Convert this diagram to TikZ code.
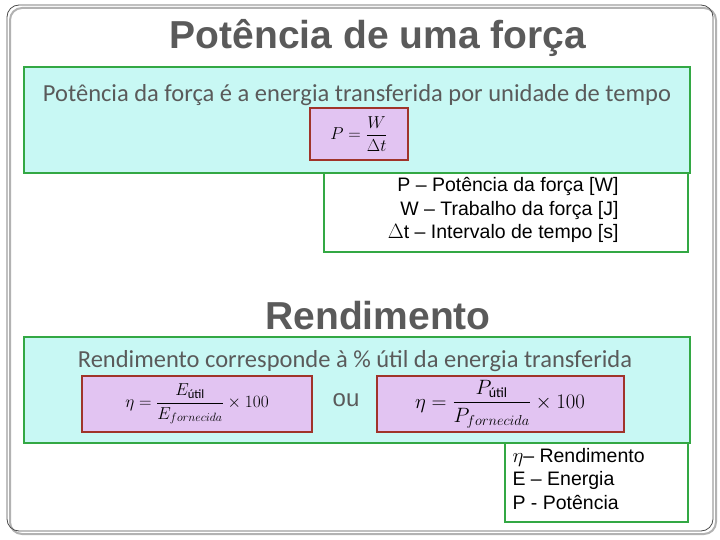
\documentclass[tikz,border=0pt]{standalone}
\usepackage{fontspec}
\setmainfont{Carlito}
\newfontfamily\arialfont{Liberation Sans}
\usepackage{amsmath}
\definecolor{boxcyan}{HTML}{C8F8F4}
\definecolor{boxgreen}{HTML}{33A844}
\definecolor{formfill}{HTML}{E2C4F2}
\definecolor{formline}{HTML}{A0342A}
\definecolor{textgray}{HTML}{5A5A5A}
\tikzset{
  infobox/.style={draw=boxgreen, line width=2.5pt, fill=boxcyan},
  legendbox/.style={draw=boxgreen, line width=2pt, fill=white},
  formbox/.style={draw=formline, line width=1.3pt, fill=formfill},
  heading/.style={font=\arialfont\bfseries\fontsize{39}{42}\selectfont, text=textgray},
  boxtext/.style={font=\fontsize{24.5}{28}\selectfont, text=textgray},
  legendtext/.style={font=\arialfont\fontsize{19.5}{23.5}\selectfont, align=left}
}
\begin{document}
\begin{tikzpicture}[x=1pt,y=-1pt]
\useasboundingbox (0,0) rectangle (720,540);
% frame
\draw [gray!60, line width=2pt, rounded corners=12pt] (10,8) rectangle (716,534);
\draw [black!70, line width=0.8pt, rounded corners=12pt] (7,5) rectangle (713,531);
% power
\node [heading] (title1) at (378,38) {Potência de uma força};
\draw [legendbox] (324,168) rectangle (688,252);
\draw [infobox] (24,67) rectangle (690,173);
\node [boxtext] (def1) at (357,95) {Potência da força é a energia transferida por unidade de tempo};
\draw [formbox] (310,108) rectangle (408,160);
\node [font=\fontsize{18}{20}\selectfont] (form1) at (359,134) {$P=\dfrac{W}{\Delta t}$};
\node [legendtext, align=right, anchor=east] (leg1) at (622,210) {P – Potência da força [W]\\W – Trabalho da força [J]\\$\Delta$t – Intervalo de tempo [s]};
% efficiency
\node [heading] (title2) at (378,316) {Rendimento};
\draw [legendbox] (505,440) rectangle (688,522);
\draw [infobox] (24,337) rectangle (690,443);
\node [boxtext] (def2) at (355,361) {Rendimento corresponde à \% útil da energia transferida};
\draw [formbox] (82,376) rectangle (312,432);
\node [font=\fontsize{18}{20}\selectfont] (form2) at (197,404) {$\eta=\dfrac{E_{\text{útil}}}{E_{fornecida}}\times 100$};
\node [boxtext, font=\arialfont\fontsize{24}{26}\selectfont] (ou) at (346,400) {ou};
\draw [formbox] (377,376) rectangle (624,432);
\node [font=\fontsize{20}{22}\selectfont] (form3) at (500,404) {$\eta=\dfrac{P_{\text{útil}}}{P_{fornecida}}\times 100$};
\node [legendtext, anchor=west] (leg2) at (509,479) {$\eta$– Rendimento\\E – Energia\\P - Potência};
\end{tikzpicture}
\end{document}
